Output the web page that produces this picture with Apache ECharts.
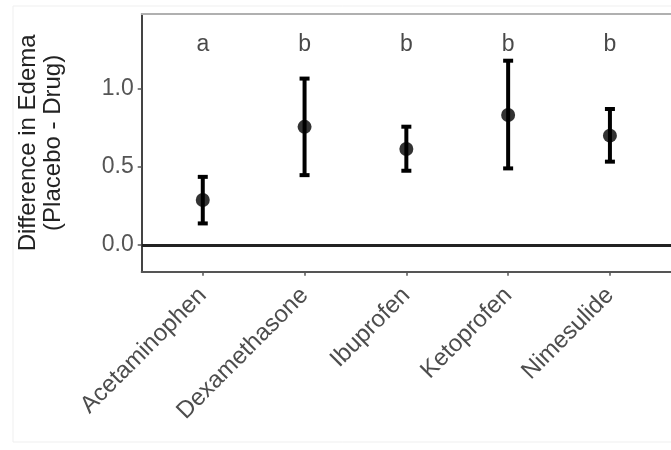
<!DOCTYPE html>
<html>
<head>
<meta charset="utf-8">
<script src="https://cdn.jsdelivr.net/npm/echarts@6/dist/echarts.min.js"></script>
<style>html,body{margin:0;padding:0;background:#fff}#c{width:671px;height:450px}</style>
</head>
<body>
<div id="c"></div>
<script>
const categories = ['Acetaminophen', 'Dexamethasone', 'Ibuprofen', 'Ketoprofen', 'Nimesulide'];
const means = [0.287, 0.754, 0.613, 0.830, 0.698];
const lower = [0.138, 0.446, 0.474, 0.489, 0.532];
const upper = [0.435, 1.062, 0.755, 1.176, 0.868];
const letters = ['a', 'b', 'b', 'b', 'b'];
const letterLevel = 1.28;
const yTicks = [0, 0.5, 1.0];

const chart = echarts.init(document.getElementById('c'), null, {renderer: 'canvas'});
const pos = categories.map((c, i) => i + 1);
const font = 'Liberation Sans, Arial, Helvetica, sans-serif';

chart.setOption({
  animation: false,
  backgroundColor: '#fff',
  graphic: [{
    type: 'rect', shape: {x: 13, y: 6, width: 700, height: 436},
    style: {fill: 'none', stroke: '#efefef', lineWidth: 1}, z: -10
  }],
  grid: {left: 141.7, top: 14, right: -12.6, bottom: 178.3},
  xAxis: [{
    type: 'value', min: 0.4, max: 5.6,
    axisLine: {show: true, onZero: false, lineStyle: {color: '#555', width: 2}},
    axisTick: {show: true, length: 4, customValues: pos, lineStyle: {color: '#555', width: 1.5}},
    axisLabel: {
      customValues: pos, rotate: 45, margin: 20, fontSize: 24, color: '#4d4d4d', fontFamily: font,
      formatter: v => categories[Math.round(v) - 1] || ''
    },
    splitLine: {show: false}
  }, {
    type: 'value', min: 0.4, max: 5.6, position: 'top',
    axisLine: {show: true, onZero: false, lineStyle: {color: '#b0b0b0', width: 2}},
    axisTick: {show: false}, axisLabel: {show: false}, splitLine: {show: false}
  }],
  yAxis: {
    type: 'value', min: -0.170, max: 1.474,
    name: 'Difference in Edema\n(Placebo - Drug)',
    nameLocation: 'middle', nameRotate: 90, nameGap: 76,
    nameTextStyle: {fontSize: 24, lineHeight: 25, color: '#222', fontFamily: font, align: 'center'},
    axisLine: {show: true, onZero: false, lineStyle: {color: '#444', width: 2}},
    axisTick: {show: true, length: 4, customValues: yTicks, lineStyle: {color: '#555', width: 1.5}},
    axisLabel: {customValues: yTicks, fontSize: 23, color: '#555', margin: 8, fontFamily: font,
      formatter: v => v.toFixed(1)},
    splitLine: {show: false}
  },
  series: [{
    type: 'custom',
    renderItem: function (params, api) {
      const x = api.value(0);
      const lo = api.coord([x, api.value(1)]);
      const hi = api.coord([x, api.value(2)]);
      const hw = 5;
      return {
        type: 'group',
        children: [
          {type: 'line', shape: {x1: lo[0], y1: lo[1], x2: hi[0], y2: hi[1]}, style: {stroke: '#000', lineWidth: 4}},
          {type: 'line', shape: {x1: lo[0] - hw, y1: lo[1], x2: lo[0] + hw, y2: lo[1]}, style: {stroke: '#000', lineWidth: 4}},
          {type: 'line', shape: {x1: hi[0] - hw, y1: hi[1], x2: hi[0] + hw, y2: hi[1]}, style: {stroke: '#000', lineWidth: 4}}
        ]
      };
    },
    data: pos.map((p, i) => [p, lower[i], upper[i]]),
    z: 3
  }, {
    type: 'scatter',
    symbol: 'circle', symbolSize: 14,
    itemStyle: {color: '#000'},
    data: pos.map((p, i) => [p, means[i]]),
    z: 4,
    markLine: {
      silent: true, symbol: 'none', label: {show: false},
      lineStyle: {color: '#222', width: 3, type: 'solid'},
      data: [{yAxis: 0}]
    }
  }, {
    type: 'scatter',
    symbolSize: 0,
    data: pos.map((p, i) => [p, letterLevel, letters[i]]),
    label: {
      show: true, position: 'inside', formatter: d => d.value[2],
      fontSize: 23, color: '#1a1a1a', fontFamily: font
    },
    z: 5
  }]
});
</script>
</body>
</html>
